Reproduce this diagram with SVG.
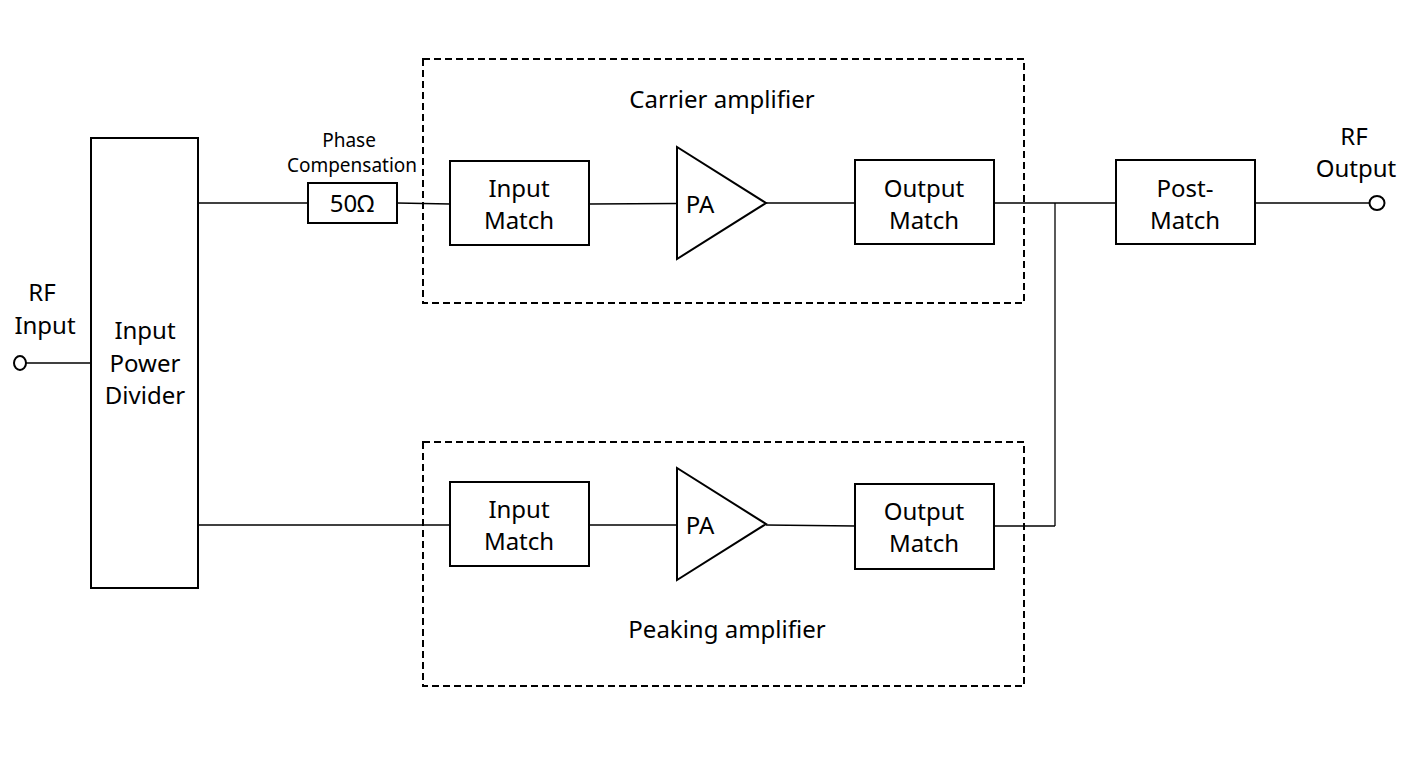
<svg xmlns="http://www.w3.org/2000/svg" width="1423" height="773" viewBox="0 0 1423 773">
<style>
.box{fill:#fff;stroke:#000;stroke-width:2}
.dash{fill:none;stroke:#000;stroke-width:2;stroke-dasharray:7,4}
.w{fill:none;stroke:#000;stroke-width:1.3}
text{font-family:"Noto Sans","DejaVu Sans",sans-serif;font-size:24px;fill:#000;text-anchor:middle}
.s{font-size:19px}
</style>
<rect width="1423" height="773" fill="#fff"/>
<g id="connectors">
<line class="w" x1="26" y1="363" x2="91" y2="363"/>
<line class="w" x1="198" y1="203" x2="308" y2="203"/>
<line class="w" x1="397" y1="203" x2="450" y2="204"/>
<line class="w" x1="589" y1="204" x2="677" y2="203.5"/>
<line class="w" x1="766" y1="203" x2="855" y2="203"/>
<line class="w" x1="994" y1="203" x2="1116" y2="203"/>
<line class="w" x1="1055" y1="203" x2="1055" y2="526"/>
<line class="w" x1="1255" y1="203" x2="1370" y2="203"/>
<line class="w" x1="198" y1="525" x2="450" y2="525"/>
<line class="w" x1="589" y1="525" x2="677" y2="525"/>
<line class="w" x1="766" y1="525" x2="855" y2="526"/>
<line class="w" x1="994" y1="526" x2="1055" y2="526"/>
</g>
<g id="carrier-group">
<rect class="dash" x="423" y="59" width="601" height="244"/>
<text x="722" y="108">Carrier amplifier</text>
</g>
<g id="peaking-group">
<rect class="dash" x="423" y="442" width="601" height="244"/>
<text x="727" y="638">Peaking amplifier</text>
</g>
<g id="rf-input">
<ellipse cx="20" cy="363" rx="6" ry="7" fill="#fff" stroke="#000" stroke-width="2"/>
<text x="42" y="301">RF</text>
<text x="45" y="334">Input</text>
</g>
<g id="divider">
<rect class="box" x="91" y="138" width="107" height="450"/>
<text x="145" y="339">Input</text>
<text x="145" y="372">Power</text>
<text x="145" y="404">Divider</text>
</g>
<g id="phase-comp">
<rect class="box" x="308" y="183" width="89" height="40"/>
<text x="352" y="212">50Ω</text>
<text class="s" x="349" y="147">Phase</text>
<text class="s" x="352" y="172">Compensation</text>
</g>
<g id="carrier-input-match">
<rect class="box" x="450" y="161" width="139" height="84"/>
<text x="519" y="197">Input</text>
<text x="519" y="229">Match</text>
</g>
<g id="carrier-pa">
<polygon class="box" points="677,147 677,259 766,203"/>
<text x="700" y="213">PA</text>
</g>
<g id="carrier-output-match">
<rect class="box" x="855" y="160" width="139" height="84"/>
<text x="924" y="197">Output</text>
<text x="924" y="229">Match</text>
</g>
<g id="post-match">
<rect class="box" x="1116" y="160" width="139" height="84"/>
<text x="1185" y="197">Post-</text>
<text x="1185" y="229">Match</text>
</g>
<g id="rf-output">
<ellipse cx="1377" cy="203" rx="7.5" ry="7" fill="#fff" stroke="#000" stroke-width="2"/>
<text x="1354" y="145">RF</text>
<text x="1356" y="177">Output</text>
</g>
<g id="peaking-input-match">
<rect class="box" x="450" y="482" width="139" height="84"/>
<text x="519" y="518">Input</text>
<text x="519" y="550">Match</text>
</g>
<g id="peaking-pa">
<polygon class="box" points="677,468 677,580 766,524"/>
<text x="700" y="534">PA</text>
</g>
<g id="peaking-output-match">
<rect class="box" x="855" y="484" width="139" height="85"/>
<text x="924" y="520">Output</text>
<text x="924" y="552">Match</text>
</g>
</svg>
